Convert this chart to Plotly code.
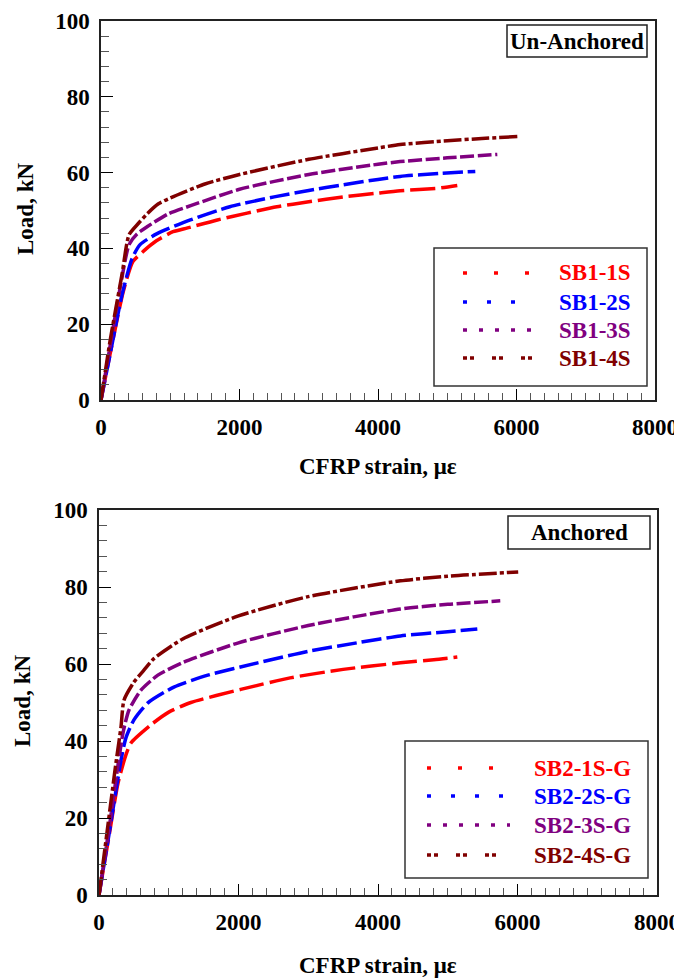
import plotly.graph_objects as go

# ---------------- data ----------------
# Un-Anchored
sb1_1s_x = [0, 130, 320, 460, 610, 800, 1040, 1250, 1680, 2110, 2540, 3000, 3500, 4000, 4320, 4870, 5145]
sb1_1s_y = [0, 12, 28.5, 36.5, 39.2, 42.0, 44.4, 45.4, 47.5, 49.3, 51.0, 52.3, 53.6, 54.6, 55.2, 55.9, 56.6]
sb1_2s_x = [0, 120, 300, 448, 564, 810, 1290, 1860, 2500, 3000, 3500, 4000, 4320, 4900, 5405]
sb1_2s_y = [0, 11, 27.5, 37.3, 41.0, 43.9, 47.5, 51.0, 53.6, 55.3, 56.8, 58.2, 59.0, 59.8, 60.3]
sb1_3s_x = [0, 120, 280, 405, 520, 665, 970, 1315, 2000, 3000, 4000, 4320, 5000, 5723]
sb1_3s_y = [0, 13, 30, 41.0, 43.8, 45.7, 49.1, 51.4, 55.6, 59.5, 62.2, 62.9, 63.9, 64.8]
sb1_4s_x = [0, 130, 304, 405, 535, 665, 824, 1000, 1500, 2000, 3000, 4000, 4320, 5000, 5500, 6012]
sb1_4s_y = [0, 15.5, 33.2, 43.6, 46.5, 49.1, 51.7, 53.3, 57.0, 59.5, 63.5, 66.5, 67.4, 68.4, 69.0, 69.5]

# Anchored
sb2_1s_x = [0, 150, 272, 386, 458, 744, 1000, 1317, 2032, 2740, 3500, 4322, 4800, 5137]
sb2_1s_y = [0, 16, 29.0, 36.4, 39.5, 44.2, 47.5, 50.0, 53.4, 56.4, 58.6, 60.3, 61.1, 61.8]
sb2_2s_x = [0, 150, 315, 386, 501, 701, 1073, 1560, 2275, 3000, 3700, 4322, 5000, 5424]
sb2_2s_y = [0, 16.5, 35.0, 40.8, 45.5, 49.9, 54.0, 57.1, 60.3, 63.3, 65.5, 67.3, 68.4, 69.1]
sb2_3s_x = [0, 150, 343, 429, 601, 844, 1216, 2000, 3000, 4322, 5000, 5753]
sb2_3s_y = [0, 18, 42.0, 48.0, 53.2, 57.1, 60.5, 65.5, 70.0, 74.3, 75.5, 76.4]
sb2_4s_x = [0, 120, 243, 315, 358, 501, 644, 787, 1200, 2000, 3000, 4322, 5000, 6010]
sb2_4s_y = [0, 17, 34.3, 43.6, 50.6, 55.3, 58.4, 61.4, 66.5, 72.5, 77.5, 81.6, 82.8, 83.9]

top_names = ["SB1-1S", "SB1-2S", "SB1-3S", "SB1-4S"]
bot_names = ["SB2-1S-G", "SB2-2S-G", "SB2-3S-G", "SB2-4S-G"]
colors = ["#FF0000", "#0000FF", "#800080", "#800000"]
plot_dash = ["25px,6px", "20px,5px", "14px,3.5px", "18px,3px,4px,3px"]
legend_dash = ["4px,27px", "4px,20px", "4px,12px", "4px,3px,4px,18px"]

x_ticks = [0, 2000, 4000, 6000, 8000]
y_ticks = [0, 20, 40, 60, 80, 100]
x_title = "CFRP strain, με"
y_title = "Load, kN"

OFF = 8                      # page body margin
W, H = 682 - OFF, 980 - OFF  # figure size that fits the window
FONT = "Liberation Serif"


def px(x):
    """page pixel x -> paper fraction"""
    return (x - OFF) / W


def py(y):
    """page pixel y (from top) -> paper fraction"""
    return 1 - (y - OFF) / H


fig = go.Figure()

top_series = [(sb1_1s_x, sb1_1s_y), (sb1_2s_x, sb1_2s_y), (sb1_3s_x, sb1_3s_y), (sb1_4s_x, sb1_4s_y)]
bot_series = [(sb2_1s_x, sb2_1s_y), (sb2_2s_x, sb2_2s_y), (sb2_3s_x, sb2_3s_y), (sb2_4s_x, sb2_4s_y)]

for i, (xs, ys) in enumerate(top_series):
    fig.add_trace(go.Scatter(x=xs, y=ys, mode="lines", name=top_names[i], showlegend=False,
                             line=dict(color=colors[i], width=3.5, dash=plot_dash[i], shape="spline", smoothing=0.6),
                             xaxis="x", yaxis="y"))
for i, (xs, ys) in enumerate(bot_series):
    fig.add_trace(go.Scatter(x=xs, y=ys, mode="lines", name=bot_names[i], showlegend=False,
                             line=dict(color=colors[i], width=3.5, dash=plot_dash[i], shape="spline", smoothing=0.6),
                             xaxis="x2", yaxis="y2"))

tickfont = dict(family=FONT, size=23, color="black", weight="bold")


def xaxis(domain, anchor):
    return dict(domain=domain, anchor=anchor, range=[0, 8000], tickvals=x_ticks, automargin=False,
                ticks="inside", ticklen=11, tickwidth=1.3, tickcolor="black",
                minor=dict(dtick=200, ticks="inside", ticklen=7, tickwidth=1, tickcolor="#555"),
                showline=True, linecolor="#222", linewidth=1.5, mirror=True, ticklabeloverflow="allow",
                showgrid=False, zeroline=False, tickfont=tickfont, ticklabelstandoff=6)


def yaxis(domain, anchor):
    return dict(domain=domain, anchor=anchor, range=[0, 100], tickvals=y_ticks, automargin=False,
                ticks="inside", ticklen=12, tickwidth=1.3, tickcolor="black",
                minor=dict(dtick=4, ticks="inside", ticklen=8, tickwidth=1, tickcolor="#555"),
                showline=True, linecolor="#222", linewidth=1.5, mirror=True, ticklabeloverflow="allow",
                showgrid=False, zeroline=False, tickfont=tickfont, ticklabelstandoff=5)


# plot areas in page pixels
TOP = dict(x0=101, x1=655, y0=21, y1=400)
BOT = dict(x0=99, x1=657, y0=510, y1=895)

fig.update_layout(
    template="none",
    width=W, height=H, margin=dict(l=0, r=0, t=0, b=0, autoexpand=False),
    paper_bgcolor="white", plot_bgcolor="white", showlegend=False,
    xaxis=xaxis([px(TOP["x0"]), px(TOP["x1"])], "y"),
    yaxis=yaxis([py(TOP["y1"]), py(TOP["y0"])], "x"),
    xaxis2=xaxis([px(BOT["x0"]), px(BOT["x1"])], "y2"),
    yaxis2=yaxis([py(BOT["y1"]), py(BOT["y0"])], "x2"),
)

shapes = []
annotations = []
txtfont = dict(family=FONT, size=23, color="black", weight="bold")

# axis titles
for P, xt_y in ((TOP, 466), (BOT, 965)):
    annotations.append(dict(x=px((P["x0"] + P["x1"]) / 2), y=py(xt_y), xref="paper", yref="paper",
                            text=x_title, showarrow=False, font=txtfont, xanchor="center", yanchor="middle"))
annotations.append(dict(x=px(25), y=py(209), xref="paper", yref="paper", text=y_title, textangle=-90,
                        showarrow=False, font=txtfont, xanchor="center", yanchor="middle"))
annotations.append(dict(x=px(22), y=py(701), xref="paper", yref="paper", text=y_title, textangle=-90,
                        showarrow=False, font=txtfont, xanchor="center", yanchor="middle"))

# title boxes
for (x0, x1, y0, y1, label) in ((507, 647, 25, 57, "Un-Anchored"), (508, 650, 516, 549, "Anchored")):
    shapes.append(dict(type="rect", xref="paper", yref="paper", x0=px(x0), x1=px(x1), y0=py(y1), y1=py(y0),
                       line=dict(color="#222", width=1.5), fillcolor="white"))
    annotations.append(dict(x=px((x0 + x1) / 2), y=py((y0 + y1) / 2), xref="paper", yref="paper",
                            text=label, showarrow=False, font=txtfont, xanchor="center", yanchor="middle"))

# legends
legends = [
    dict(box=(434, 647, 248, 386), ys=[273, 302, 330, 358], lx=(463, 533), tx=633, names=top_names),
    dict(box=(405, 648, 741, 878), ys=[768, 796, 825, 855], lx=(427, 510), tx=633, names=bot_names),
]
for L in legends:
    bx0, bx1, by0, by1 = L["box"]
    shapes.append(dict(type="rect", xref="paper", yref="paper", x0=px(bx0), x1=px(bx1), y0=py(by1), y1=py(by0),
                       line=dict(color="#333", width=1.5), fillcolor="white", layer="above"))
    for i, yy in enumerate(L["ys"]):
        shapes.append(dict(type="line", xref="paper", yref="paper", x0=px(L["lx"][0]), x1=px(L["lx"][1]),
                           y0=py(yy), y1=py(yy), line=dict(color=colors[i], width=3.5, dash=legend_dash[i]),
                           layer="above"))
        annotations.append(dict(x=px(L["tx"]), y=py(yy), xref="paper", yref="paper", text=L["names"][i],
                                showarrow=False, xanchor="right", yanchor="middle",
                                font=dict(family=FONT, size=23, color=colors[i], weight="bold")))

fig.update_layout(shapes=shapes, annotations=annotations)
fig.write_html("out.html")
